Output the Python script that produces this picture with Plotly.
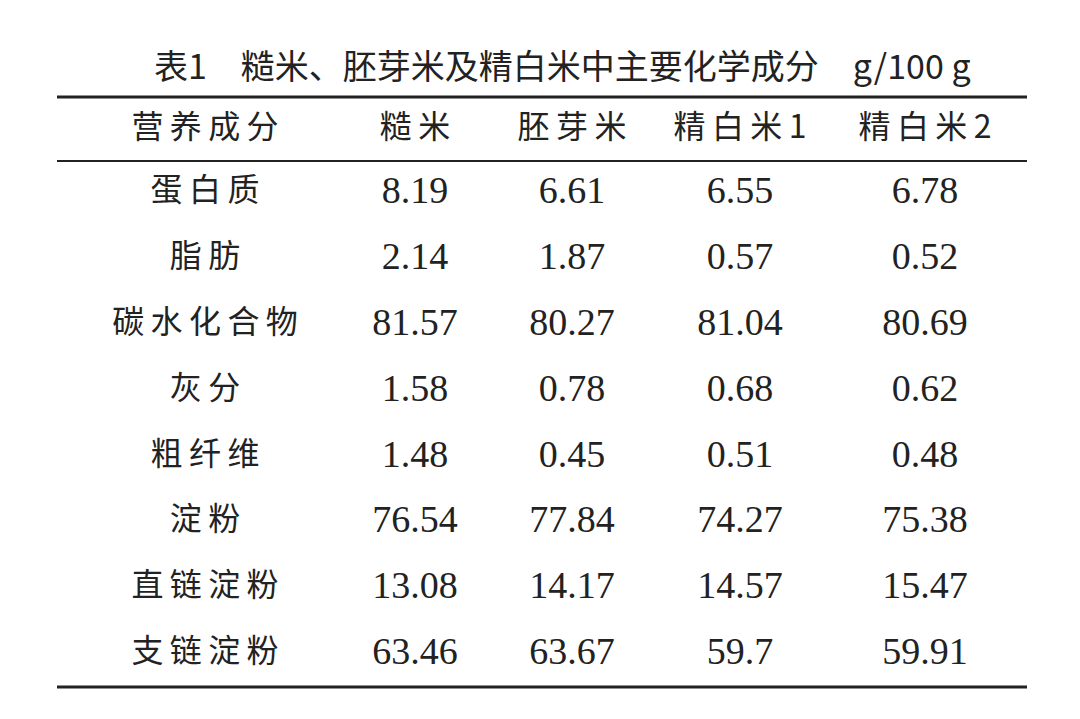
import plotly.graph_objects as go

title = "表1　糙米、胚芽米及精白米中主要化学成分　g/100 g"
headers = ["营养成分", "糙米", "胚芽米", "精白米1", "精白米2"]
components = ["蛋白质", "脂肪", "碳水化合物", "灰分", "粗纤维", "淀粉", "直链淀粉", "支链淀粉"]
brown = ["8.19", "2.14", "81.57", "1.58", "1.48", "76.54", "13.08", "63.46"]
germ = ["6.61", "1.87", "80.27", "0.78", "0.45", "77.84", "14.17", "63.67"]
white1 = ["6.55", "0.57", "81.04", "0.68", "0.51", "74.27", "14.57", "59.7"]
white2 = ["6.78", "0.52", "80.69", "0.62", "0.48", "75.38", "15.47", "59.91"]

off = 8
col_x = [x - off for x in [205, 415, 572, 740, 925]]
header_y = 130 - off
row_y = [y - off for y in [193, 259, 325, 391, 457, 522, 588, 654]]

def spaced(s):
    return "\u2009".join(s)

fig = go.Figure()
fig.add_trace(go.Scatter(x=col_x, y=[header_y]*5, text=[spaced(h) for h in headers], mode="text",
                         textfont=dict(family="Noto Sans CJK SC", size=32, color="#222")))
cols = [components, brown, germ, white1, white2]
for i, vals in enumerate(cols):
    if i == 0:
        txt = [spaced(v) for v in vals]
        tf = dict(family="Noto Sans CJK SC", size=32, color="#222")
    else:
        txt = vals
        tf = dict(family="Liberation Serif", size=38, color="#222")
    fig.add_trace(go.Scatter(x=[col_x[i]]*len(vals), y=row_y, text=txt, mode="text", textfont=tf))

fig.add_annotation(x=562 - off, y=64 - off, text=title, showarrow=False, xref="x", yref="y",
                   font=dict(family="Noto Sans CJK SC", size=34, color="#222"))
for y, w in [(97, 3), (161, 2), (687, 3)]:
    fig.add_shape(type="line", x0=57 - off, x1=1027 - off, y0=y - off, y1=y - off, xref="x", yref="y",
                  line=dict(color="#222", width=w))

fig.update_layout(width=1080, height=719, margin=dict(l=0, r=0, t=0, b=0),
                  plot_bgcolor="white", paper_bgcolor="white", showlegend=False,
                  xaxis=dict(range=[0, 1080], visible=False, fixedrange=True),
                  yaxis=dict(range=[719, 0], visible=False, fixedrange=True))
fig.write_html("out.html")
